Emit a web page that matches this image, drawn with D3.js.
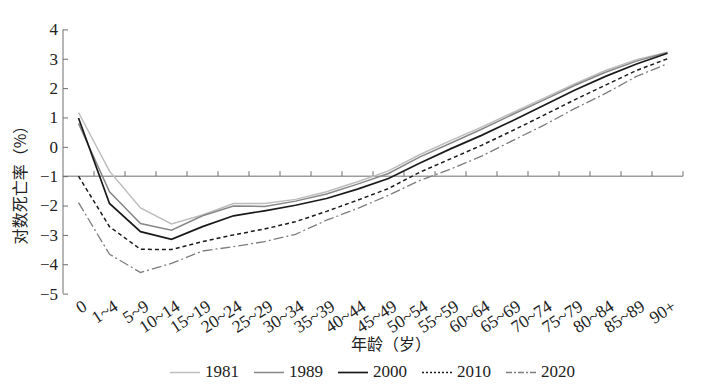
<!DOCTYPE html>
<html>
<head>
<meta charset="utf-8">
<script src="https://cdn.jsdelivr.net/npm/d3@7"></script>
<style>
  body { margin: 0; background: #fff; }
  svg { display: block; }
  .tick-label { font-family: "Liberation Serif", serif; font-size: 17px; fill: #222; }
  .x-label { font-family: "Liberation Serif", serif; font-size: 17.5px; fill: #222; }
  .cjk { font-family: "Noto Sans CJK SC", sans-serif; font-size: 16px; fill: #222; }
</style>
</head>
<body>
<div id="chart"></div>
<script>
// age groups on the x axis
var ages = ["0", "1~4", "5~9", "10~14", "15~19", "20~24", "25~29", "30~34", "35~39", "40~44",
  "45~49", "50~54", "55~59", "60~64", "65~69", "70~74", "75~79", "80~84", "85~89", "90+"];

var years = ["1981", "1989", "2000", "2010", "2020"];

// log mortality (%) per age group
var v1981 = [1.17, -0.83, -2.08, -2.63, -2.32, -1.93, -1.93, -1.79, -1.53, -1.19,
  -0.82, -0.27, 0.21, 0.67, 1.16, 1.65, 2.14, 2.6, 2.97, 3.22];
var v1989 = [0.8, -1.53, -2.61, -2.84, -2.35, -2.02, -2.03, -1.85, -1.61, -1.27,
  -0.91, -0.35, 0.12, 0.6, 1.1, 1.59, 2.09, 2.54, 2.92, 3.21];
var v2000 = [0.98, -1.93, -2.89, -3.15, -2.72, -2.35, -2.18, -1.99, -1.76, -1.44,
  -1.08, -0.56, -0.07, 0.39, 0.89, 1.41, 1.93, 2.4, 2.82, 3.19];
var v2010 = [-1.0, -2.72, -3.49, -3.5, -3.23, -3.0, -2.8, -2.55, -2.2, -1.82,
  -1.42, -0.87, -0.41, 0.05, 0.55, 1.07, 1.6, 2.1, 2.6, 3.0];
var v2020 = [-1.9, -3.66, -4.28, -3.97, -3.55, -3.4, -3.23, -2.98, -2.5, -2.1,
  -1.65, -1.15, -0.76, -0.32, 0.21, 0.73, 1.3, 1.82, 2.4, 2.83];

var yTicks = [4, 3, 2, 1, 0, -1, -2, -3, -4, -5];

var W = 715, H = 392;
var plotL = 63, plotR = 683, plotT = 29.4, plotB = 293.6;

var svg = d3.select("#chart").append("svg")
  .attr("width", W)
  .attr("height", H);

var x = d3.scaleBand().domain(ages).range([plotL, plotR]);
var y = d3.scaleLinear().domain([-5, 4]).range([plotB, plotT]);

var styles = [
  {color: "#bdbdbd", width: 1.5, dash: null},
  {color: "#878787", width: 1.5, dash: null},
  {color: "#1a1a1a", width: 1.7, dash: null},
  {color: "#1a1a1a", width: 1.5, dash: "4,3"},
  {color: "#7d7d7d", width: 1.3, dash: "10,3,2,3"}
];
var series = [v1981, v1989, v2000, v2010, v2020];

// y axis, ticks pointing into the plot
var yAxis = d3.axisRight(y).tickValues(yTicks).tickSize(5).tickFormat("");
svg.append("g")
  .attr("transform", "translate(" + plotL + ",0)")
  .call(yAxis)
  .call(function(g) {
    g.select(".domain").attr("d", "M0," + y(4) + "V" + y(-5)).attr("stroke", "#6e6e6e");
    g.selectAll(".tick line").attr("stroke", "#6e6e6e");
  });

svg.append("g").selectAll("text")
  .data(yTicks)
  .enter().append("text")
  .attr("class", "tick-label")
  .attr("x", plotL - 5)
  .attr("y", function(d) { return y(d); })
  .attr("dy", "0.35em")
  .attr("text-anchor", "end")
  .text(function(d) { return d < 0 ? "\u2212" + Math.abs(d) : d; });

// x axis sits on y = -1, ticks at band edges pointing up
var xAxis = d3.axisTop(x).tickSize(0).tickFormat("");
var xg = svg.append("g")
  .attr("transform", "translate(0," + y(-1) + ")")
  .call(xAxis);
xg.select(".domain").attr("d", "M" + plotL + ",0H" + plotR).attr("stroke", "#6e6e6e");
xg.selectAll(".tick").remove();
xg.selectAll(".edge")
  .data(ages)
  .enter().append("line")
  .attr("class", "edge")
  .attr("x1", function(d) { return x(d) + x.bandwidth(); })
  .attr("x2", function(d) { return x(d) + x.bandwidth(); })
  .attr("y1", 0)
  .attr("y2", -5)
  .attr("stroke", "#6e6e6e");

// slanted category labels under the plot
svg.append("g").selectAll("text")
  .data(ages)
  .enter().append("text")
  .attr("class", "x-label")
  .attr("text-anchor", "end")
  .attr("transform", function(d) {
    return "translate(" + (x(d) + x.bandwidth() / 2 + 3) + "," + 299 + ") rotate(-33)";
  })
  .attr("dy", "0.7em")
  .text(function(d) { return d; });

// lines
var line = d3.line()
  .x(function(d, i) { return x(ages[i]) + x.bandwidth() / 2; })
  .y(function(d) { return y(d); });

series.forEach(function(s, k) {
  svg.append("path")
    .datum(s)
    .attr("fill", "none")
    .attr("stroke", styles[k].color)
    .attr("stroke-width", styles[k].width)
    .attr("stroke-dasharray", styles[k].dash)
    .attr("d", line);
});

// axis titles
svg.append("text")
  .attr("class", "cjk")
  .attr("transform", "translate(20,181) rotate(-90)")
  .attr("text-anchor", "middle")
  .attr("dy", "0.35em")
  .text("对数死亡率（%）");

svg.append("text")
  .attr("class", "cjk")
  .attr("x", 391)
  .attr("y", 350)
  .attr("text-anchor", "middle")
  .text("年龄（岁）");

// legend
var legend = svg.append("g");
var lx = 0;
years.forEach(function(yr, k) {
  var item = legend.append("g").attr("transform", "translate(" + lx + ",0)");
  item.append("line")
    .attr("x1", 0).attr("x2", 30)
    .attr("y1", -4.5).attr("y2", -4.5)
    .attr("stroke", styles[k].color)
    .attr("stroke-width", styles[k].width)
    .attr("stroke-dasharray", k === 3 ? "2,2" : (k === 4 ? "6,2,2,2" : null));
  var t = item.append("text")
    .attr("class", "tick-label")
    .attr("x", 35)
    .attr("y", 0)
    .text(yr);
  lx += 35 + t.node().getComputedTextLength() + 15;
});
lx -= 15;
legend.attr("transform", "translate(" + (372.5 - lx / 2) + ",377)");
</script>
</body>
</html>
